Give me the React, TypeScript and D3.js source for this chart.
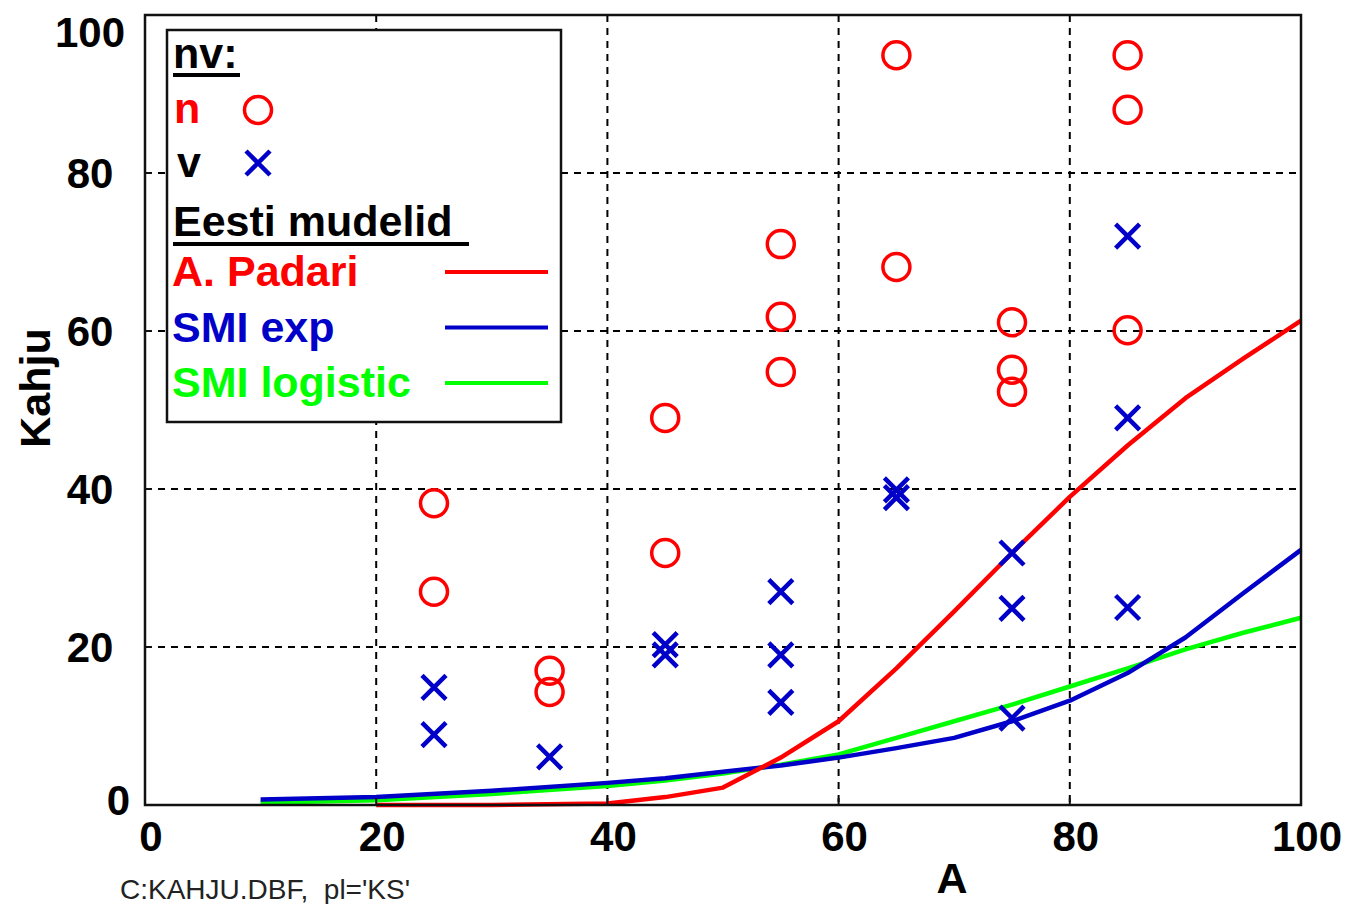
import React, { useEffect, useRef } from 'react';
import * as d3 from 'd3';

// observed damage, "n" and "v" groups
const nA = [25, 25, 35, 35, 45, 45, 55, 55, 55, 65, 65, 75, 75, 75, 85, 85, 85];
const nKahju = [38.2, 27, 17, 14.3, 49, 31.9, 71, 61.8, 54.8, 94.9, 68.1, 61.1, 55.1, 52.3, 94.9, 88, 60.1];
const vA = [25, 25, 35, 45, 45, 55, 55, 55, 65, 65, 75, 75, 75, 85, 85, 85];
const vKahju = [14.9, 8.9, 6.1, 20.3, 19, 27, 19, 13, 39.9, 38.9, 31.9, 24.9, 11, 72, 49, 25];

// model curves
const padariA = [20, 30, 40, 45, 50, 55, 60, 65, 70, 75, 80, 85, 90, 95, 100];
const padariKahju = [0, 0, 0.2, 1.0, 2.2, 6.0, 10.6, 17.3, 24.5, 31.9, 39, 45.5, 51.5, 56.5, 61.3];
const smiA = [10, 20, 30, 40, 45, 50, 55, 60, 65, 70, 75, 80, 85, 90, 95, 100];
const smiExpKahju = [0.7, 1.0, 1.8, 2.8, 3.4, 4.2, 5.0, 6.0, 7.2, 8.5, 10.6, 13.2, 16.7, 21.2, 26.8, 32.3];
const smiLogKahju = [0.3, 0.6, 1.4, 2.4, 3.1, 4.0, 5.1, 6.4, 8.5, 10.6, 12.7, 15.0, 17.3, 19.7, 21.8, 23.7];

const ticks = [0, 20, 40, 60, 80, 100];
const gridTicks = [20, 40, 60, 80];

const RED = '#ff0000';
const BLUE = '#0000c8';
const GREEN = '#00ff00';
const FONT = '"Liberation Sans", Arial, sans-serif';

const App = () => {
  const svgRef = useRef<SVGSVGElement>(null);

  useEffect(() => {
    const W = 1348;
    const H = 904;
    const m = { left: 145, right: 1301, top: 15, bottom: 805 };

    const svg = d3.select(svgRef.current);
    svg.selectAll('*').remove();
    svg.attr('width', W).attr('height', H);

    svg.append('rect').attr('width', W).attr('height', H).attr('fill', '#fff');

    const x = d3.scaleLinear().domain([0, 100]).range([m.left, m.right]);
    const y = d3.scaleLinear().domain([0, 100]).range([m.bottom, m.top]);

    // dashed grid
    const grid = svg.append('g')
      .attr('stroke', '#000')
      .attr('stroke-width', 2)
      .attr('stroke-dasharray', '7,6');
    grid.selectAll('.gx').data(gridTicks).enter().append('line')
      .attr('x1', d => x(d)).attr('x2', d => x(d))
      .attr('y1', m.top).attr('y2', m.bottom);
    grid.selectAll('.gy').data(gridTicks).enter().append('line')
      .attr('x1', m.left).attr('x2', m.right)
      .attr('y1', d => y(d)).attr('y2', d => y(d));

    // model lines
    const line = d3.line<[number, number]>()
      .x(d => x(d[0]))
      .y(d => y(d[1]));

    const curves = [
      { a: smiA, k: smiLogKahju, color: GREEN },
      { a: smiA, k: smiExpKahju, color: BLUE },
      { a: padariA, k: padariKahju, color: RED },
    ];
    curves.forEach(c => {
      svg.append('path')
        .datum(c.a.map((a, i) => [a, c.k[i]] as [number, number]))
        .attr('fill', 'none')
        .attr('stroke', c.color)
        .attr('stroke-width', 4.5)
        .attr('stroke-linejoin', 'round')
        .attr('d', line);
    });

    // markers
    const circleR = 13.5;
    const crossS = 12;
    const drawCircle = (g: any, cx: number, cy: number) => {
      g.append('circle')
        .attr('cx', cx).attr('cy', cy).attr('r', circleR)
        .attr('fill', 'none').attr('stroke', RED).attr('stroke-width', 3.5);
    };
    const drawCross = (g: any, cx: number, cy: number) => {
      g.append('path')
        .attr('d', `M${cx - crossS},${cy - crossS}L${cx + crossS},${cy + crossS}M${cx - crossS},${cy + crossS}L${cx + crossS},${cy - crossS}`)
        .attr('stroke', BLUE).attr('stroke-width', 4.5).attr('fill', 'none');
    };

    const pts = svg.append('g');
    nA.forEach((a, i) => drawCircle(pts, x(a), y(nKahju[i])));
    vA.forEach((a, i) => drawCross(pts, x(a), y(vKahju[i])));

    // frame
    svg.append('rect')
      .attr('x', m.left).attr('y', m.top)
      .attr('width', m.right - m.left).attr('height', m.bottom - m.top)
      .attr('fill', 'none').attr('stroke', '#111').attr('stroke-width', 2.5);

    // small inward ticks
    svg.append('g').selectAll('line').data(gridTicks).enter().append('line')
      .attr('x1', m.left).attr('x2', m.left + 7)
      .attr('y1', d => y(d)).attr('y2', d => y(d))
      .attr('stroke', '#111').attr('stroke-width', 2);
    svg.append('g').selectAll('line').data(gridTicks).enter().append('line')
      .attr('y1', m.bottom).attr('y2', m.bottom - 7)
      .attr('x1', d => x(d)).attr('x2', d => x(d))
      .attr('stroke', '#111').attr('stroke-width', 2);

    // tick labels
    svg.append('g').selectAll('text').data(ticks).enter().append('text')
      .attr('x', d => (d === 0 ? 130 : 90))
      .attr('y', d => Math.max(m.top + 17, Math.min(m.bottom - 5, y(d))))
      .attr('dy', '0.36em')
      .attr('text-anchor', d => (d === 0 ? 'end' : 'middle'))
      .attr('font-family', FONT).attr('font-size', 42).attr('font-weight', 'bold')
      .attr('fill', '#000')
      .text(d => d);
    svg.append('g').selectAll('text').data(ticks).enter().append('text')
      .attr('x', d => x(d) + 6)
      .attr('y', 851)
      .attr('text-anchor', 'middle')
      .attr('font-family', FONT).attr('font-size', 42).attr('font-weight', 'bold')
      .attr('fill', '#000')
      .text(d => d);

    // axis titles
    svg.append('text')
      .attr('x', 952).attr('y', 893)
      .attr('text-anchor', 'middle')
      .attr('font-family', FONT).attr('font-size', 43).attr('font-weight', 'bold')
      .text('A');
    svg.append('text')
      .attr('transform', 'translate(50,388) rotate(-90)')
      .attr('text-anchor', 'middle')
      .attr('font-family', FONT).attr('font-size', 43).attr('font-weight', 'bold')
      .text('Kahju');

    // footnote
    svg.append('text')
      .attr('x', 120).attr('y', 899)
      .attr('font-family', FONT).attr('font-size', 28)
      .attr('fill', '#222')
      .style('white-space', 'pre')
      .text("C:KAHJU.DBF,  pl='KS'");

    // legend
    const lg = svg.append('g');
    lg.append('rect')
      .attr('x', 167).attr('y', 30).attr('width', 394).attr('height', 392)
      .attr('fill', '#fff').attr('stroke', '#111').attr('stroke-width', 2.5);

    const lt = (tx: number, ty: number, s: string, color: string) =>
      lg.append('text')
        .attr('x', tx).attr('y', ty)
        .attr('font-family', FONT).attr('font-size', 43).attr('font-weight', 'bold')
        .attr('fill', color)
        .text(s);

    lt(173, 68, 'nv:', '#000');
    lg.append('line').attr('x1', 173).attr('x2', 240).attr('y1', 75).attr('y2', 75)
      .attr('stroke', '#000').attr('stroke-width', 4);
    lt(174, 123, 'n', RED);
    drawCircle(lg, 258, 110);
    lt(177, 177, 'v', '#000');
    drawCross(lg, 258, 163);
    lt(173, 236, 'Eesti mudelid', '#000');
    lg.append('line').attr('x1', 173).attr('x2', 469).attr('y1', 244).attr('y2', 244)
      .attr('stroke', '#000').attr('stroke-width', 4);

    const models = [
      { name: 'A. Padari', color: RED },
      { name: 'SMI exp', color: BLUE },
      { name: 'SMI logistic', color: GREEN },
    ];
    models.forEach((md, i) => {
      const cy = 272 + i * 55.5;
      lt(172, cy + 14, md.name, md.color);
      lg.append('line').attr('x1', 445).attr('x2', 548).attr('y1', cy).attr('y2', cy)
        .attr('stroke', md.color).attr('stroke-width', 4);
    });
  }, []);

  return (
    <svg ref={svgRef} style={{ position: 'absolute', left: 0, top: 0, display: 'block' }}></svg>
  );
};

export default App;
